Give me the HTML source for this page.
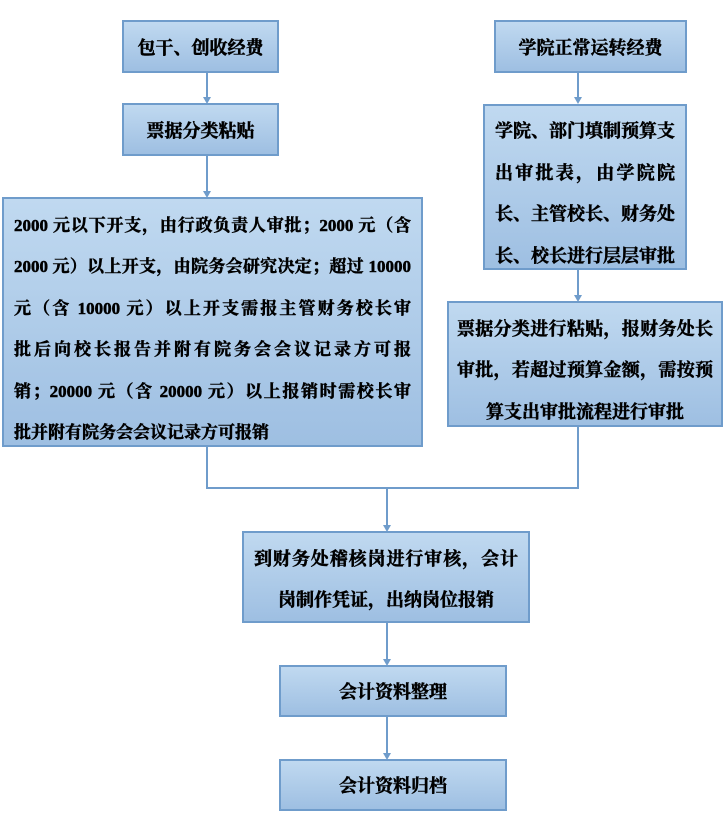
<!DOCTYPE html>
<html><head><meta charset="utf-8"><style>
body{margin:0;width:726px;height:832px;background:#fff;position:relative;overflow:hidden;font-family:"Liberation Serif","Noto Serif CJK SC",serif;font-weight:bold;font-size:17px;color:#000;-webkit-text-stroke:0.5px #000}
.b{position:absolute;box-sizing:border-box;border:2px solid #6f9ccb;background:linear-gradient(#c0d9f0,#9ebfe2);display:flex;flex-direction:column;justify-content:center;align-items:center}
.j{line-height:41.5px;box-sizing:border-box;width:100%;position:relative;top:7px}
.j div{text-align:justify;text-align-last:justify;white-space:nowrap}
.j div.l{text-align-last:left}
</style></head><body>
<svg width="726" height="832" style="position:absolute;left:0;top:0">
<g stroke="#6f9ccb" stroke-width="2" fill="none">
<line x1="207" y1="73" x2="207" y2="98"/>
<line x1="207" y1="156" x2="207" y2="192"/>
<line x1="578" y1="73" x2="578" y2="98"/>
<line x1="578" y1="270" x2="578" y2="296"/>
<polyline points="207,447 207,488 578,488 578,427"/>
<line x1="387" y1="488" x2="387" y2="526"/>
<line x1="387" y1="623" x2="387" y2="660"/>
<line x1="387" y1="717" x2="387" y2="754"/>
</g>
<g fill="#6f9ccb">
<polygon points="203,97 211,97 207,104"/>
<polygon points="203,191 211,191 207,198"/>
<polygon points="574,97 582,97 578,104"/>
<polygon points="574,295 582,295 578,302"/>
<polygon points="383,525 391,525 387,532"/>
<polygon points="383,659 391,659 387,666"/>
<polygon points="383,753 391,753 387,760"/>
</g>
</svg>
<div class="b" style="left:122px;top:20px;width:157px;height:53px;font-size:18px">包干、创收经费</div>
<div class="b" style="left:122px;top:103px;width:157px;height:53px;font-size:18px">票据分类粘贴</div>
<div class="b" style="left:494px;top:20px;width:193px;height:53px;font-size:18px">学院正常运转经费</div>
<div class="b" style="left:2px;top:197px;width:421px;height:250px"><div class="j" style="padding:0 10px">
<div>2000 元以下开支，由行政负责人审批；2000 元（含</div>
<div>2000 元）以上开支，由院务会研究决定；超过 10000</div>
<div>元（含 10000 元）以上开支需报主管财务校长审</div>
<div>批后向校长报告并附有院务会会议记录方可报</div>
<div>销；20000 元（含 20000 元）以上报销时需校长审</div>
<div class="l">批并附有院务会会议记录方可报销</div></div></div>
<div class="b" style="left:483px;top:104px;width:204px;height:166px;font-size:18px"><div class="j" style="padding:0 10px">
<div>学院、部门填制预算支</div><div>出审批表，由学院院</div><div>长、主管校长、财务处</div><div>长、校长进行层层审批</div></div></div>
<div class="b" style="left:447px;top:301px;width:276px;height:126px;font-size:18px"><div class="j" style="padding:0 8px">
<div>票据分类进行粘贴，报财务处长</div><div>审批，若超过预算金额，需按预</div><div style="text-align-last:center">算支出审批流程进行审批</div></div></div>
<div class="b" style="left:242px;top:531px;width:288px;height:92px;font-size:18px"><div class="j" style="padding:0 10px;top:3px">
<div>到财务处稽核岗进行审核，会计</div><div style="text-align-last:center">岗制作凭证，出纳岗位报销</div></div></div>
<div class="b" style="left:279px;top:665px;width:228px;height:52px;font-size:18px">会计资料整理</div>
<div class="b" style="left:279px;top:759px;width:228px;height:52px;font-size:18px">会计资料归档</div>
</body></html>
